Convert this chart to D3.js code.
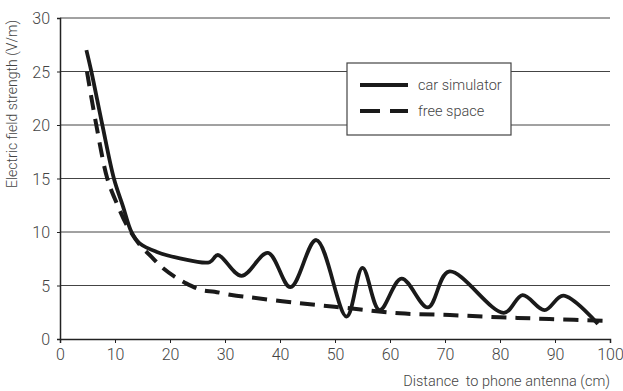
<!DOCTYPE html>
<html>
<head>
<meta charset="utf-8">
<script src="https://cdn.jsdelivr.net/npm/d3@7"></script>
<style>
  body { margin: 0; background: #fff; }
  text { font-family: "Roboto", "Liberation Sans Narrow", sans-serif; font-weight: 300; fill: #444; }
</style>
</head>
<body>
<div id="chart"></div>
<script>
// distance (cm) / field strength (V/m)
const carX = [4.8, 5.7, 7.7, 9.8, 11.45, 13, 14.5, 17.5, 21.8, 27.2, 28.7, 33, 37.8, 41.9, 46.6, 52.1, 55, 58.1, 62.1, 66.9, 70.7, 80.7, 84.1, 88.1, 91.5, 97.8];
const carY = [27, 25, 20, 15, 12.4, 10, 8.94, 8.16, 7.54, 7.17, 7.85, 5.9, 8.05, 4.85, 9.25, 2.1, 6.65, 2.7, 5.65, 2.95, 6.3, 2.45, 4.1, 2.7, 4.05, 1.4];

const freeX = [4.9, 6.6, 8.6, 10.3, 12.3, 14.5, 16.6, 18.4, 20.9, 22.7, 25.7, 28.1, 31.2, 34.5, 43.6, 52.7, 61.8, 70.9, 80, 89, 99.6];
const freeY = [25, 20, 15, 12.7, 10.5, 8.8, 7.7, 6.76, 5.8, 5.26, 4.58, 4.42, 4.11, 3.9, 3.34, 2.87, 2.4, 2.24, 2.03, 1.87, 1.7];

const xTicks = [0, 10, 20, 30, 40, 50, 60, 70, 80, 90, 100];
const yTicks = [0, 5, 10, 15, 20, 25, 30];

const legendNames = ['car simulator', 'free space'];

const W = 623, H = 391;
const margin = { top: 18, right: 13, bottom: 52, left: 60 };
const width = W - margin.left - margin.right;
const height = H - margin.top - margin.bottom;

const svg = d3.select('#chart').append('svg')
  .attr('width', W).attr('height', H);
const g = svg.append('g')
  .attr('transform', `translate(${margin.left},${margin.top})`);

const x = d3.scaleLinear().domain([0, 100]).range([0, width]);
const y = d3.scaleLinear().domain([0, 30]).range([height, 0]);

// horizontal gridlines
g.selectAll('.grid').data(yTicks.filter(d => d > 0)).enter().append('line')
  .attr('x1', 0).attr('x2', width)
  .attr('y1', d => y(d)).attr('y2', d => y(d))
  .attr('stroke', '#444').attr('stroke-width', 1);

// axes
const xAxis = d3.axisBottom(x).tickValues(xTicks).tickSize(4).tickPadding(6);
const xg = g.append('g').attr('transform', `translate(0,${height})`).call(xAxis);
xg.select('.domain').attr('stroke', '#222').attr('stroke-width', 1.5);
xg.selectAll('.tick line').attr('stroke', '#222');
xg.selectAll('.tick text').style('font-size', '16px').attr('fill', '#444');

const yAxis = d3.axisLeft(y).tickValues(yTicks).tickSize(3).tickPadding(7);
const yg = g.append('g').call(yAxis);
yg.select('.domain').attr('stroke', '#222').attr('stroke-width', 1.5);
yg.selectAll('.tick line').attr('stroke', '#222');
yg.selectAll('.tick text').style('font-size', '16px').attr('fill', '#444').attr('dy', '0.35em');

// axis titles
g.append('text')
  .attr('transform', 'rotate(-90)')
  .attr('x', -86).attr('y', -43)
  .attr('text-anchor', 'middle')
  .style('font-size', '14px')
  .text('Electric field strength (V/m)');

g.append('text')
  .attr('x', width).attr('y', height + 47)
  .attr('text-anchor', 'end')
  .style('font-size', '14.5px')
  .style('white-space', 'pre')
  .text('Distance  to phone antenna (cm)');

// series - centripetal catmull-rom keeps the bend near 13 cm smooth
const line = d3.line()
  .x(d => x(d[0])).y(d => y(d[1]))
  .curve(d3.curveCatmullRom.alpha(0.5));

const car = carX.map((v, i) => [v, carY[i]]);
const free = freeX.map((v, i) => [v, freeY[i]]);

g.append('path').datum(free)
  .attr('d', line)
  .attr('fill', 'none').attr('stroke', '#1a1a1a')
  .attr('stroke-width', 4).attr('stroke-dasharray', '15,9');

g.append('path').datum(car)
  .attr('d', line)
  .attr('fill', 'none').attr('stroke', '#1a1a1a')
  .attr('stroke-width', 3.8).attr('stroke-linejoin', 'round');

// legend
const lg = svg.append('g').attr('transform', 'translate(347,63)');
lg.append('rect').attr('width', 164).attr('height', 72)
  .attr('fill', '#fff').attr('stroke', '#444').attr('stroke-width', 1.2);
legendNames.forEach((name, i) => {
  const ly = 22 + i * 26;
  lg.append('line')
    .attr('x1', 13).attr('x2', 61).attr('y1', ly).attr('y2', ly)
    .attr('stroke', '#1a1a1a').attr('stroke-width', 4)
    .attr('stroke-dasharray', i === 1 ? '20,10' : null);
  lg.append('text')
    .attr('x', 71).attr('y', ly + 5)
    .style('font-size', '14.5px')
    .text(name);
});
</script>
</body>
</html>
